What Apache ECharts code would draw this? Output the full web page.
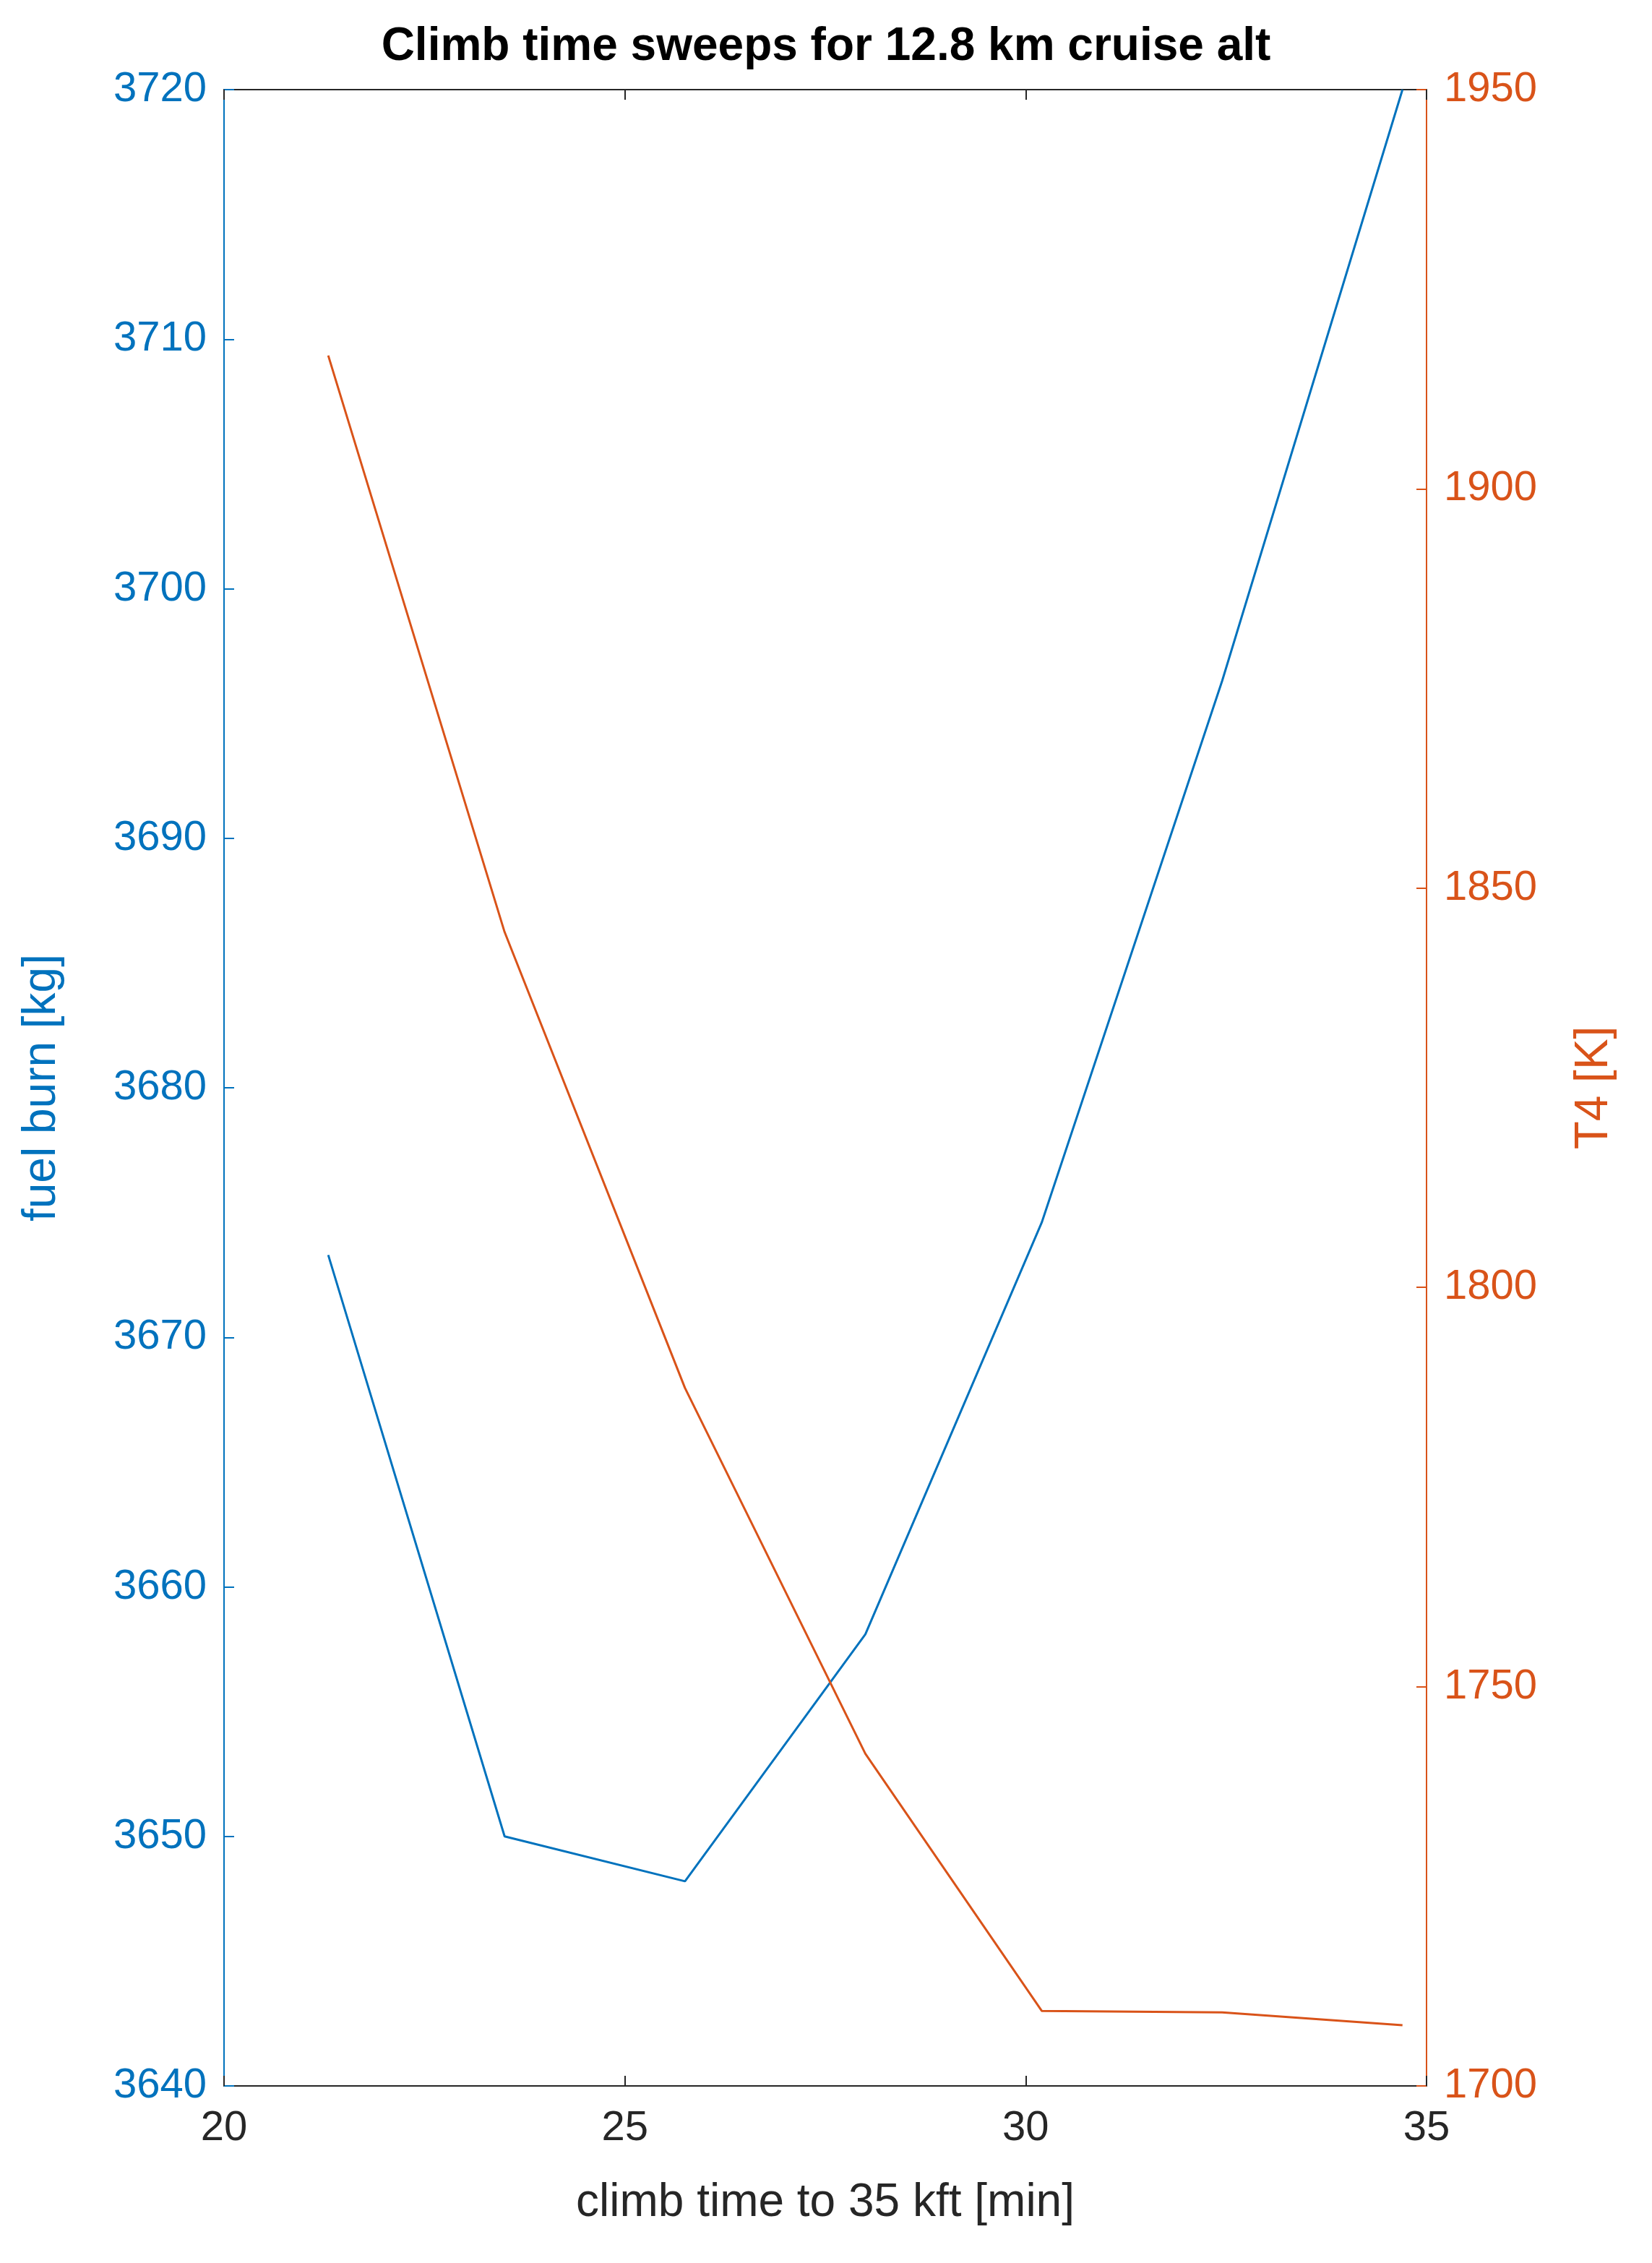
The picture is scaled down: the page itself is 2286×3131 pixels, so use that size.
<!DOCTYPE html>
<html><head><meta charset="utf-8">
<script src="https://cdn.jsdelivr.net/npm/echarts@6/dist/echarts.min.js"></script>
<style>html,body{margin:0;background:#fff}#c{width:2286px;height:3131px}</style>
</head><body><div id="c"></div>
<script>
const climbTime = [21.3, 23.5, 25.75, 28.0, 30.2, 32.45, 34.7];
const fuelBurn = [3673.3, 3650.0, 3648.2, 3658.1, 3674.6, 3696.3, 3720.0];
const t4 = [1916.7, 1844.5, 1787.4, 1741.6, 1709.4, 1709.2, 1707.6];
const blue = '#0072BD', orange = '#D95319', dark = '#262626';
const font = 'Liberation Sans, Arial, sans-serif';
const fmt = v => String(v);
const chart = echarts.init(document.getElementById('c'));
chart.setOption({
  backgroundColor: '#fff',
  animation: false,
  title: {text: 'Climb time sweeps for 12.8 km cruise alt', left: 'center', top: 28,
    textStyle: {fontSize: 64, fontWeight: 'bold', color: '#000', fontFamily: font}},
  grid: {left: 310, right: 312, top: 124, bottom: 245},
  xAxis: [{type: 'value', min: 20, max: 35, interval: 5, position: 'bottom',
    name: 'climb time to 35 kft [min]', nameLocation: 'middle', nameGap: 130,
    nameTextStyle: {fontSize: 64, color: dark, fontFamily: font},
    axisLine: {lineStyle: {color: dark, width: 2}},
    axisTick: {inside: true, length: 14, lineStyle: {color: dark, width: 2}},
    axisLabel: {fontSize: 58, color: dark, margin: 30, fontFamily: font, formatter: fmt},
    splitLine: {show: false}},
   {type: 'value', min: 20, max: 35, interval: 5, position: 'top',
    axisLine: {lineStyle: {color: dark, width: 2}},
    axisTick: {inside: true, length: 14, lineStyle: {color: dark, width: 2}},
    axisLabel: {show: false}, splitLine: {show: false}}],
  yAxis: [{type: 'value', min: 3640, max: 3720, interval: 10, position: 'left',
    name: 'fuel burn [kg]', nameLocation: 'middle', nameGap: 220, nameRotate: 90,
    nameTextStyle: {fontSize: 64, color: blue, fontFamily: font},
    axisLine: {show: true, lineStyle: {color: blue, width: 2}},
    axisTick: {show: true, inside: true, length: 14, lineStyle: {color: blue, width: 2}},
    axisLabel: {fontSize: 58, color: blue, margin: 24, fontFamily: font, formatter: fmt},
    splitLine: {show: false}},
   {type: 'value', min: 1700, max: 1950, interval: 50, position: 'right',
    name: 'T4 [K]', nameLocation: 'middle', nameGap: 200, nameRotate: 90,
    nameTextStyle: {fontSize: 64, color: orange, fontFamily: font},
    axisLine: {show: true, lineStyle: {color: orange, width: 2}},
    axisTick: {show: true, inside: true, length: 14, lineStyle: {color: orange, width: 2}},
    axisLabel: {fontSize: 58, color: orange, margin: 24, fontFamily: font, formatter: fmt},
    splitLine: {show: false}}],
  series: [
    {type: 'line', xAxisIndex: 0, yAxisIndex: 0, data: climbTime.map((x,i)=>[x,fuelBurn[i]]),
     showSymbol: false, lineStyle: {color: blue, width: 3}, itemStyle: {color: blue}},
    {type: 'line', xAxisIndex: 0, yAxisIndex: 1, data: climbTime.map((x,i)=>[x,t4[i]]),
     showSymbol: false, lineStyle: {color: orange, width: 3}, itemStyle: {color: orange}}
  ]
});
</script></body></html>
